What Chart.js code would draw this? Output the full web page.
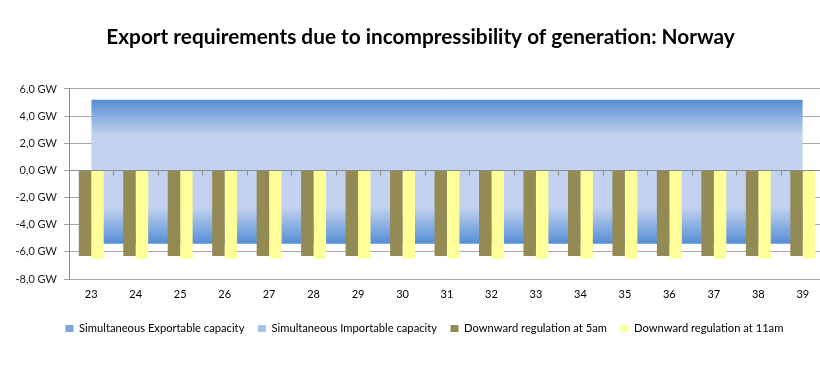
<!DOCTYPE html>
<html>
<head>
<meta charset="utf-8">
<script src="https://cdn.jsdelivr.net/npm/chart.js@4"></script>
<style>
  html, body { margin: 0; padding: 0; background: #fff; overflow: hidden; }
  #wrap { width: 825px; height: 369px; }
</style>
</head>
<body>
<div id="wrap"><canvas id="chart"></canvas></div>
<script>
// week numbers on the x axis
const weeks = ['23', '24', '25', '26', '27', '28', '29', '30', '31', '32', '33', '34', '35', '36', '37', '38', '39'];

// GW values
const exportable = [5.2, 5.2, 5.2, 5.2, 5.2, 5.2, 5.2, 5.2, 5.2, 5.2, 5.2, 5.2, 5.2, 5.2, 5.2, 5.2, 5.2];
const importable = [-5.4, -5.4, -5.4, -5.4, -5.4, -5.4, -5.4, -5.4, -5.4, -5.4, -5.4, -5.4, -5.4, -5.4, -5.4, -5.4, -5.4];
const down5am = [-6.3, -6.3, -6.3, -6.3, -6.3, -6.3, -6.3, -6.3, -6.3, -6.3, -6.3, -6.3, -6.3, -6.3, -6.3, -6.3, -6.3];
const down11am = [-6.5, -6.5, -6.5, -6.5, -6.5, -6.5, -6.5, -6.5, -6.5, -6.5, -6.5, -6.5, -6.5, -6.5, -6.5, -6.5, -6.5];

const yMin = -8, yMax = 6, yStep = 2;

const DARK_BLUE = '#558ed5';
const LIGHT_BLUE = '#c3d3ef';
const AXIS_GREY = '#8c8c8c';
const FONT = 'Lato, "Liberation Sans", sans-serif';

// vertical gradient between 0 and the area's edge, dark at the edge
function areaFill(context) {
    const chart = context.chart;
    if (!chart.chartArea) return LIGHT_BLUE;
    const data = context.dataset.data;
    const edge = data[0] >= 0 ? Math.max(...data) : Math.min(...data);
    const y = chart.scales.y;
    const g = chart.ctx.createLinearGradient(0, y.getPixelForValue(edge), 0, y.getPixelForValue(0));
    g.addColorStop(0, DARK_BLUE);
    g.addColorStop(0.5, LIGHT_BLUE);
    g.addColorStop(1, LIGHT_BLUE);
    return g;
}

const legendColors = ['#7ba3de', '#a9c2ea', '#948a54', '#ffff99'];

// zero line with small tick marks between the categories, drawn over the areas
const zeroAxis = {
    id: 'zeroAxis',
    afterDatasetsDraw(chart) {
        const { ctx, chartArea, scales } = chart;
        const x = scales.x, y = scales.y;
        const y0 = Math.round(y.getPixelForValue(0)) + 0.5;
        ctx.save();
        ctx.strokeStyle = AXIS_GREY;
        ctx.lineWidth = 1;
        ctx.beginPath();
        ctx.moveTo(chartArea.left, y0);
        ctx.lineTo(chartArea.right, y0);
        const step = x.getPixelForValue(1) - x.getPixelForValue(0);
        for (let i = 1; i < weeks.length; i++) {
            const xt = Math.round(x.getPixelForValue(i) - step / 2) + 0.5;
            ctx.moveTo(xt, y0);
            ctx.lineTo(xt, y0 + 5);
        }
        ctx.stroke();
        ctx.restore();
    }
};

// nudge the title and legend row to where they sit in the original
const blockShift = {
    id: 'blockShift',
    afterLayout(chart) {
        chart.titleBlock.left += 8;
        chart.titleBlock.right += 8;
        chart.legend.left += 52;
        chart.legend.right += 52;
        chart.legend.top -= 1;
        chart.legend.bottom -= 1;
    }
};

new Chart(document.getElementById('chart'), {
    type: 'bar',
    data: {
        labels: weeks,
        datasets: [
            {
                type: 'line',
                label: 'Simultaneous Exportable capacity',
                data: exportable,
                fill: 'origin',
                backgroundColor: areaFill,
                borderWidth: 0,
                pointRadius: 0,
                order: 2
            },
            {
                type: 'line',
                label: 'Simultaneous Importable capacity',
                data: importable,
                fill: 'origin',
                backgroundColor: areaFill,
                borderWidth: 0,
                pointRadius: 0,
                order: 2
            },
            {
                label: 'Downward regulation at 5am',
                data: down5am,
                backgroundColor: '#948a54',
                barPercentage: 1,
                categoryPercentage: 0.56,
                order: 1
            },
            {
                label: 'Downward regulation at 11am',
                data: down11am,
                backgroundColor: '#ffff99',
                barPercentage: 1,
                categoryPercentage: 0.56,
                order: 1
            }
        ]
    },
    plugins: [zeroAxis, blockShift],
    options: {
        responsive: true,
        maintainAspectRatio: false,
        animation: false,
        layout: { padding: { left: 0, right: 0, top: 0, bottom: 24 } },
        plugins: {
            tooltip: { enabled: false },
            title: {
                display: true,
                text: 'Export requirements due to incompressibility of generation: Norway',
                color: '#000',
                font: { family: FONT, size: 20.8, weight: 'bold' },
                padding: { top: 25, bottom: 39 }
            },
            legend: {
                position: 'bottom',
                align: 'start',
                labels: {
                    color: '#000',
                    font: { family: FONT, size: 11.2 },
                    boxWidth: 8,
                    boxHeight: 7,
                    padding: 13.5,
                    sort: (a, b) => a.datasetIndex - b.datasetIndex,
                    generateLabels: (chart) => {
                        const items = Chart.defaults.plugins.legend.labels.generateLabels(chart);
                        items.forEach(it => {
                            it.fillStyle = legendColors[it.datasetIndex];
                            it.strokeStyle = legendColors[it.datasetIndex];
                            it.lineWidth = 0;
                        });
                        return items;
                    }
                }
            }
        },
        scales: {
            x: {
                offset: true,
                grid: { display: false, drawTicks: false },
                border: { display: false },
                ticks: { color: '#000', font: { family: FONT, size: 11 }, padding: 9 }
            },
            y: {
                min: yMin,
                max: yMax,
                ticks: {
                    stepSize: yStep,
                    color: '#1a1a1a',
                    font: { family: FONT, size: 11 },
                    padding: 7,
                    callback: (v) => v.toFixed(1).replace('.', ',') + ' GW'
                },
                grid: { color: '#a6a6a6', tickLength: 5 },
                border: { color: AXIS_GREY },
                afterFit: (s) => { s.width = 69; }
            }
        }
    }
});
</script>
</body>
</html>
